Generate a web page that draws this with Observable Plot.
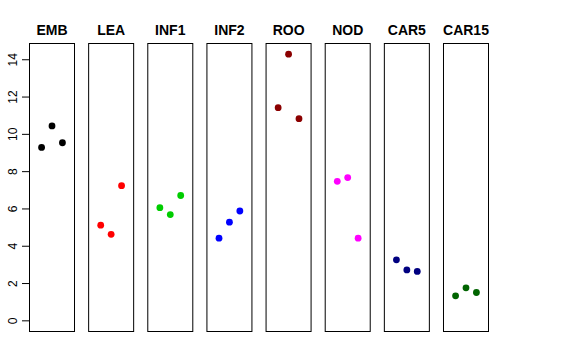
<!DOCTYPE html>
<html><head><meta charset="utf-8">
<script src="https://cdn.jsdelivr.net/npm/d3@7"></script>
<script src="https://cdn.jsdelivr.net/npm/@observablehq/plot@0.6"></script>
<style>body{margin:0;background:#fff}</style>
</head><body><div id="chart"></div>
<script>
const groups = ["EMB","LEA","INF1","INF2","ROO","NOD","CAR5","CAR15"];
const colors = ["#000000","#FF0000","#00CD00","#0000FF","#8B0000","#FF00FF","#000080","#006400"];
const replicate = [1, 2, 3];
const EMB   = [9.30, 10.45, 9.55];
const LEA   = [5.13, 4.64, 7.25];
const INF1  = [6.07, 5.70, 6.72];
const INF2  = [4.43, 5.29, 5.89];
const ROO   = [11.43, 14.30, 10.84];
const NOD   = [7.48, 7.68, 4.43];
const CAR5  = [3.27, 2.73, 2.65];
const CAR15 = [1.34, 1.77, 1.52];
const yTicks = [0, 2, 4, 6, 8, 10, 12, 14];

const series = {EMB, LEA, INF1, INF2, ROO, NOD, CAR5, CAR15};
const data = groups.flatMap(g => series[g].map((v, i) => ({group: g, rep: replicate[i], value: v})));

const chart = Plot.plot({
  width: 576, height: 360,
  marginTop: 43, marginBottom: 29, marginLeft: 29, marginRight: 88,
  style: {fontFamily: "'Liberation Sans', Arial, sans-serif", fontSize: "12px", background: "white", color: "black"},
  fx: {domain: groups, paddingInner: 0.239, paddingOuter: 0, round: false, label: null, axis: null},
  x: {domain: [-0.16, 4.16], axis: null},
  y: {domain: [-0.572, 14.872], axis: null},
  color: {domain: groups, range: colors},
  marks: [
    Plot.frame({stroke: "black", strokeWidth: 1}),
    Plot.axisY({ticks: yTicks, tickSize: 7, tickPadding: 5.5, tickRotate: -90, textAnchor: "middle", lineAnchor: "bottom", label: null, fontSize: 12}),
    Plot.axisFx({anchor: "top", tickSize: 0, tickPadding: 9, label: null, fontSize: 14, fontWeight: "bold"}),
    Plot.dot(data, {fx: "group", x: "rep", y: "value", fill: "group", r: 3.4})
  ]
});
document.getElementById("chart").appendChild(chart);
</script>
</body></html>
